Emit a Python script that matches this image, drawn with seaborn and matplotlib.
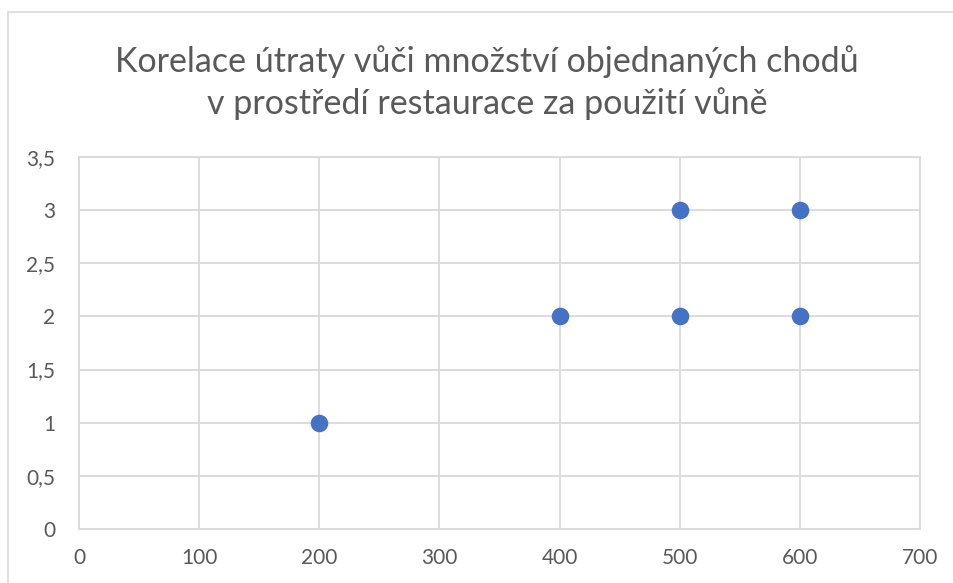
import matplotlib
matplotlib.use("Agg")
import matplotlib.pyplot as plt
import seaborn as sns
import pandas as pd
from matplotlib.patches import Rectangle
from matplotlib.ticker import FuncFormatter

# Data
utrata = [200, 400, 500, 500, 600, 600]
chody = [1, 2, 2, 3, 2, 3]
x_ticks = [0, 100, 200, 300, 400, 500, 600, 700]
y_ticks = [0, 0.5, 1, 1.5, 2, 2.5, 3, 3.5]
title = "Korelace útraty vůči množství objednaných chodů\nv prostředí restaurace za použití vůně"

df = pd.DataFrame({"utrata": utrata, "chody": chody})

sns.set_theme(style="white")
plt.rcParams['font.family'] = ['Lato', 'DejaVu Sans']

fig = plt.figure(figsize=(9.54, 5.83), dpi=100)
ax = fig.add_axes([79/954, 1-529/583, (920-79)/954, (529-157)/583])

fig.patches.append(Rectangle((8/954, -0.1), 1.2, 1-12/583+0.1, transform=fig.transFigure,
                             fill=False, edgecolor="#D9D9D9", linewidth=1.2))

sns.scatterplot(data=df, x="utrata", y="chody", ax=ax, s=160, color="#4472C4",
                edgecolor="#4472C4", linewidth=0, zorder=3)

ax.set_xlim(0, 700)
ax.set_ylim(0, 3.5)
ax.set_xticks(x_ticks)
ax.set_yticks(y_ticks)
fmt = FuncFormatter(lambda v, p: (f"{v:g}").replace(".", ","))
ax.xaxis.set_major_formatter(fmt)
ax.yaxis.set_major_formatter(fmt)
ax.grid(True, color="#D9D9D9", linewidth=1.3)
ax.set_axisbelow(True)
for s in ax.spines.values():
    s.set_color("#D9D9D9")
    s.set_linewidth(1.3)
ax.tick_params(axis="both", length=0, labelsize=15, labelcolor="#595959")
ax.tick_params(axis="y", pad=17)
ax.tick_params(axis="x", pad=14)
ax.set_xlabel("")
ax.set_ylabel("")

fig.text(0.5 + 10/954, 1-45/583, title, ha="center", va="top", fontsize=24.5,
         color="#595959", linespacing=1.33)

fig.savefig("out.png", dpi=100)
